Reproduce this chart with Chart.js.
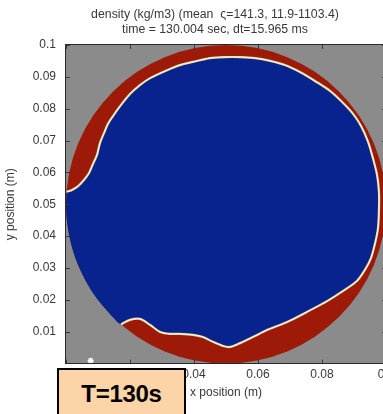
<!DOCTYPE html>
<html><head><meta charset="utf-8">
<script src="https://cdn.jsdelivr.net/npm/chart.js@4/dist/chart.umd.min.js"></script>
<style>
html,body{margin:0;padding:0;background:#fff;overflow:hidden;width:383px;height:414px;}
#wrap{position:absolute;left:0;top:0;width:430px;height:414px;}
#badge{position:absolute;left:57px;top:368px;width:129px;height:60px;box-sizing:border-box;border:2px solid #000;background:#fdd4a7;font:bold 24px "Liberation Sans",Arial,sans-serif;line-height:48px;text-align:center;letter-spacing:-0.3px;color:#000;}
</style></head><body>
<div id="wrap"><canvas id="c" width="430" height="414"></canvas></div>
<div id="badge">T=130s</div>
<script>
// ---- data (metres) ----
const TITLE_1 = 'density (kg/m3) (mean  \u03c2=141.3, 11.9-1103.4)';
const TITLE_2 = 'time = 130.004 sec, dt=15.965 ms';
const X_TITLE = 'x position (m)';
const Y_TITLE = 'y position (m)';
const X_TICKS = [0, 0.02, 0.04, 0.06, 0.08, 0.1];
const X_TICK_LABELS = ['0', '0.02', '0.04', '0.06', '0.08', '0.1'];
const Y_TICKS = [0.01, 0.02, 0.03, 0.04, 0.05, 0.06, 0.07, 0.08, 0.09, 0.1];
const Y_TICK_LABELS = ['0.01', '0.02', '0.03', '0.04', '0.05', '0.06', '0.07', '0.08', '0.09', '0.1'];
// circular domain wall
const DOMAIN_CX = 0.05, DOMAIN_CY = 0.05, DOMAIN_R = 0.05;
// light/heavy fluid interface (clockwise from left wall)
const IFACE_X = [0.0002,0.0019,0.0038,0.0056,0.0072,0.0084,0.0097,0.0106,0.0119,0.0131,0.0147,0.0169,0.0200,0.0231,0.0263,0.0316,0.0356,0.0397,0.0450,0.0497,0.0544,0.0591,0.0638,0.0684,0.0731,0.0778,0.0825,0.0866,0.0897,0.0922,0.0944,0.0959,0.0972,0.0978,0.0978,0.0975,0.0966,0.0953,0.0934,0.0909,0.0866,0.0816,0.0753,0.0691,0.0628,0.0584,0.0544,0.0513,0.0491,0.0459,0.0428,0.0397,0.0356,0.0325,0.0294,0.0263,0.0231,0.0200,0.0172];
const IFACE_Y = [0.0539,0.0545,0.0557,0.0576,0.0598,0.0626,0.0655,0.0692,0.0724,0.0752,0.0777,0.0808,0.0846,0.0874,0.0896,0.0921,0.0937,0.0947,0.0959,0.0962,0.0962,0.0959,0.0950,0.0937,0.0915,0.0887,0.0856,0.0818,0.0784,0.0746,0.0696,0.0645,0.0592,0.0539,0.0482,0.0425,0.0378,0.0331,0.0294,0.0259,0.0228,0.0196,0.0162,0.0130,0.0105,0.0083,0.0064,0.0052,0.0055,0.0068,0.0083,0.0090,0.0093,0.0093,0.0099,0.0121,0.0140,0.0137,0.0123];
// wall segment where the light fluid touches the wall (bottom-left, going up)
const WALL_X = [0.0146,0.0117,0.0090,0.0067,0.0047,0.0030,0.0017,0.0008,0.0002,0.0000];
const WALL_Y = [0.0146,0.0179,0.0213,0.0250,0.0289,0.0329,0.0371,0.0413,0.0456,0.0500];
// marker
const MARKER_X = [0.0077];
const MARKER_Y = [0.0009];

// ---- styles ----
const FONT = '"Liberation Sans", Arial, Helvetica, sans-serif';
const GRAY = '#8b8b8b', RED = '#9e1a08', BLUE = '#08228e', TXT = '#383838';

const pts = (xs, ys) => xs.map((v, i) => ({x: v, y: ys[i]}));
const ifacePts = pts(IFACE_X, IFACE_Y);
const bluePts = ifacePts.concat(pts(WALL_X, WALL_Y));

const domainPlugin = {
  id: 'domain',
  beforeDatasetsDraw(chart) {
    const {ctx, chartArea: a, scales: {x, y}} = chart;
    ctx.save();
    ctx.fillStyle = GRAY;
    ctx.fillRect(a.left, a.top, a.right - a.left, a.bottom - a.top);
    ctx.beginPath(); ctx.rect(a.left, a.top, a.right - a.left, a.bottom - a.top); ctx.clip();
    const cx = x.getPixelForValue(DOMAIN_CX), cy = y.getPixelForValue(DOMAIN_CY);
    const rx = x.getPixelForValue(DOMAIN_CX + DOMAIN_R) - cx;
    const ry = cy - y.getPixelForValue(DOMAIN_CY + DOMAIN_R);
    ctx.beginPath(); ctx.ellipse(cx, cy, rx, ry, 0, 0, Math.PI * 2);
    ctx.fillStyle = RED; ctx.fill();
    ctx.restore();
  },
  afterDatasetsDraw(chart) {
    const {ctx, chartArea: a, scales: {x, y}} = chart;
    ctx.save();
    ctx.strokeStyle = '#3a3a3a'; ctx.lineWidth = 1;
    ctx.beginPath();
    X_TICKS.forEach(v => {
      const px = Math.round(x.getPixelForValue(v)) + 0.5;
      ctx.moveTo(px, a.bottom); ctx.lineTo(px, a.bottom - 4);
      ctx.moveTo(px, a.top); ctx.lineTo(px, a.top + 4);
    });
    Y_TICKS.forEach(v => {
      const py = Math.round(y.getPixelForValue(v)) + 0.5;
      ctx.moveTo(a.left, py); ctx.lineTo(a.left + 4, py);
      ctx.moveTo(a.right, py); ctx.lineTo(a.right - 4, py);
    });
    ctx.stroke();
    ctx.strokeStyle = '#2a2a2a';
    ctx.strokeRect(Math.round(a.left) - 0.5, Math.round(a.top) - 0.5, Math.round(a.right - a.left) + 1, Math.round(a.bottom - a.top) + 1);
    ctx.restore();
  }
};

new Chart(document.getElementById('c'), {
  type: 'line',
  data: {
    datasets: [
      {data: pts(MARKER_X, MARKER_Y), showLine: false, pointStyle: 'star', pointRadius: 3, borderColor: '#ffffff', borderWidth: 1.5, backgroundColor: '#ffffff', order: 0},
      {data: ifacePts, borderColor: '#fbfbee', borderWidth: 0.9, pointRadius: 0, fill: false, tension: 0.3, order: 1},
      {data: ifacePts, borderColor: '#dcd49c', borderWidth: 2.2, pointRadius: 0, fill: false, tension: 0.3, order: 2},
      {data: bluePts, borderColor: 'rgba(0,0,0,0)', borderWidth: 1, backgroundColor: BLUE, pointRadius: 0, fill: 'shape', tension: 0.3, order: 3}
    ]
  },
  options: {
    responsive: false, animation: false, devicePixelRatio: 1, events: [],
    layout: {padding: 0},
    plugins: {
      legend: {display: false}, tooltip: {enabled: false},
      title: {display: true, text: [TITLE_1, TITLE_2], color: TXT,
        font: {size: 12.3, family: FONT, weight: 'normal', lineHeight: 1.2},
        padding: {top: 7.5, bottom: 8}}
    },
    scales: {
      x: {type: 'linear', position: 'bottom', min: 0, max: 0.1,
        afterFit(s) { s.height = 50.5; },
        afterBuildTicks(s) { s.ticks = X_TICKS.map(v => ({value: v})); },
        ticks: {font: {size: 12, family: FONT}, color: TXT, padding: 3.5, maxRotation: 0, autoSkip: false,
          callback: (v, i) => X_TICK_LABELS[i]},
        grid: {display: false, drawTicks: false}, border: {display: false},
        title: {display: true, text: X_TITLE, color: TXT, font: {size: 12, family: FONT}, padding: {top: 0, bottom: 13.8}}
      },
      y: {type: 'linear', position: 'left', min: 0, max: 0.1,
        afterFit(s) { s.width = 66; },
        afterBuildTicks(s) { s.ticks = Y_TICKS.map(v => ({value: v})); },
        ticks: {font: {size: 12, family: FONT}, color: TXT, padding: 10, autoSkip: false,
          callback: (v, i) => Y_TICK_LABELS[i]},
        grid: {display: false, drawTicks: false}, border: {display: false},
        title: {display: true, text: Y_TITLE, color: TXT, font: {size: 12, family: FONT}, padding: {top: 3.8, bottom: 0}}
      },
      y2: {type: 'linear', position: 'right', display: true,
        afterFit(s) { s.width = 44; },
        ticks: {display: false}, grid: {display: false, drawTicks: false}, border: {display: false}}
    }
  },
  plugins: [domainPlugin]
});
</script>
</body></html>
